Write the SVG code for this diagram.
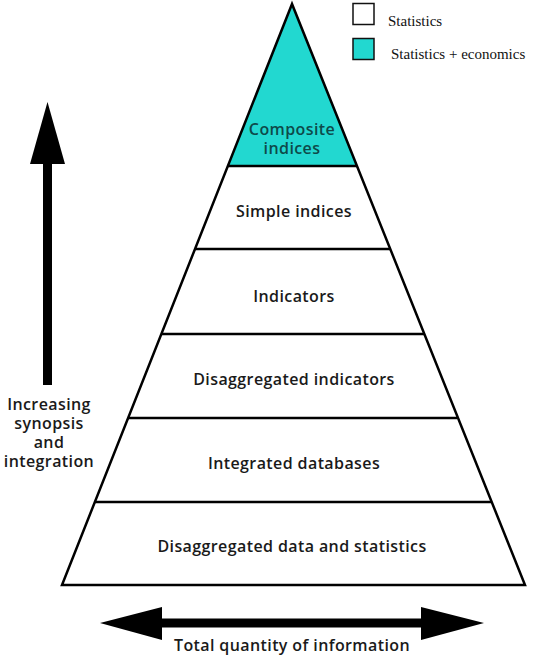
<svg xmlns="http://www.w3.org/2000/svg" width="536" height="658" viewBox="0 0 536 658">
<style>
.edge{stroke:#000;stroke-width:2.5;fill:none;stroke-linejoin:miter}
.lbl{font-family:"Open Sans","Liberation Sans",sans-serif;font-weight:600;font-size:16px;letter-spacing:0.4px;fill:#1a1a1a;text-anchor:middle}
.leg{font-family:"Liberation Serif",serif;font-size:15px;fill:#111}
.sq{stroke:#111;stroke-width:1.5}
</style>
<rect width="536" height="658" fill="#fff"/>
<g id="legend">
<rect class="sq" x="353" y="3.5" width="21" height="21" fill="#fff"/>
<text class="leg" x="388" y="26">Statistics</text>
<rect class="sq" x="353" y="38.5" width="21" height="21" fill="#22d8d0"/>
<text class="leg" x="391" y="59">Statistics + economics</text>
</g>
<g id="composite">
<polygon points="292,4 228,166 357,166" fill="#22d8d0"/>
<text class="lbl" x="292" y="135" style="fill:#0e4a4a">Composite</text>
<text class="lbl" x="292" y="154" style="fill:#0e4a4a">indices</text>
</g>
<g id="simple">
<text class="lbl" x="294" y="217">Simple indices</text>
</g>
<g id="indicators">
<text class="lbl" x="294" y="302">Indicators</text>
</g>
<g id="disagg-indicators">
<text class="lbl" x="294" y="385">Disaggregated indicators</text>
</g>
<g id="integrated">
<text class="lbl" x="294" y="469">Integrated databases</text>
</g>
<g id="disagg-data">
<text class="lbl" x="292" y="552">Disaggregated data and statistics</text>
</g>
<g id="pyramid-lines">
<polygon class="edge" points="292,4 62,585 525,585"/>
<line class="edge" x1="228" y1="166" x2="357" y2="166"/>
<line class="edge" x1="195" y1="249" x2="390" y2="249"/>
<line class="edge" x1="162" y1="334" x2="424" y2="334"/>
<line class="edge" x1="128" y1="418" x2="457" y2="418"/>
<line class="edge" x1="95" y1="502" x2="491" y2="502"/>
</g>
<g id="connectors">
<rect x="43" y="160" width="9" height="225" fill="#000"/>
<polygon points="47.5,102 30,164 65,164" fill="#000"/>
<rect x="158" y="618.5" width="270" height="9" fill="#000"/>
<polygon points="100,623 162,607 162,640" fill="#000"/>
<polygon points="484,623 421,607 421,640" fill="#000"/>
</g>
<g id="synopsis-label">
<text class="lbl" x="49" y="410">Increasing</text>
<text class="lbl" x="49" y="429">synopsis</text>
<text class="lbl" x="49" y="448">and</text>
<text class="lbl" x="49" y="467">integration</text>
</g>
<g id="quantity-label">
<text class="lbl" x="292" y="651">Total quantity of information</text>
</g>
</svg>
